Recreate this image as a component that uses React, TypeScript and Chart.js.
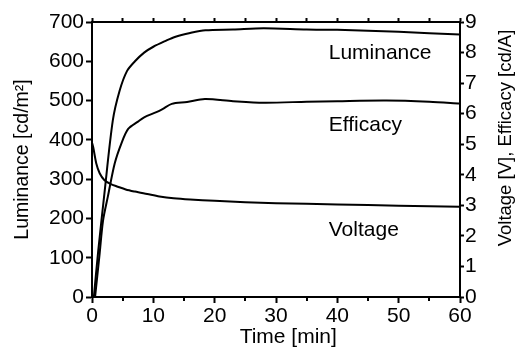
import React, { useEffect, useRef } from "react";
import { Chart, registerables } from "chart.js";

Chart.register(...registerables);

// Luminance [cd/m²] vs time [min] (left axis)
const lumTime = [0.3, 1, 2, 3.4, 4.5, 5.7, 7, 8.5, 10, 12, 13.5, 16, 18.5, 23, 28, 35, 40, 50, 60];
const lumValues = [0, 115, 260, 450, 525, 575, 600, 622, 637, 652, 662, 672, 679, 681, 684, 681, 680, 675, 668];

// Efficacy [cd/A] vs time (right axis)
const effTime = [0.5, 1.25, 1.8, 2.6, 3.7, 4.8, 5.9, 7.5, 8.5, 10.5, 11.5, 13, 15.5, 18.4, 23, 28, 35, 40, 48, 55, 60];
const effValues = [0, 1.43, 2.5, 3.3, 4.37, 5.03, 5.5, 5.74, 5.88, 6.05, 6.15, 6.32, 6.38, 6.48, 6.41, 6.36, 6.39, 6.41, 6.43, 6.39, 6.33];

// Voltage [V] vs time (right axis)
const voltTime = [0, 0.2, 0.7, 1.25, 2, 3, 4.2, 5.5, 7, 9, 11, 13.3, 16, 20, 25, 30, 40, 50, 60];
const voltValues = [5.05, 4.9, 4.37, 4.05, 3.83, 3.7, 3.61, 3.52, 3.45, 3.37, 3.29, 3.23, 3.19, 3.15, 3.1, 3.07, 3.03, 2.99, 2.95];

// Curve labels placed in data coordinates (time, luminance scale)
const curveLabels = ["Luminance", "Efficacy", "Voltage"];
const curveLabelTime = [38.6, 38.6, 38.6];
const curveLabelLum = [621, 438, 170];

const xTitle = "Time [min]";
const yLeftTitle = "Luminance [cd/m²]";
const yRightTitle = "Voltage [V], Efficacy [cd/A]";

const FONT = '"Liberation Sans", Arial, sans-serif';

function toPoints(xs: number[], ys: number[]) {
  return xs.map((x, i) => ({ x, y: ys[i] }));
}

export default function App() {
  const ref = useRef<HTMLCanvasElement | null>(null);

  useEffect(() => {
    document.body.style.margin = "0";
    const canvas = ref.current;
    if (!canvas) return;

    const overlay = {
      id: "overlay",
      afterDraw(chart: any) {
        const ctx = chart.ctx;
        const xs = chart.scales.x;
        const ys = chart.scales.y;
        const area = chart.chartArea;
        ctx.save();
        ctx.fillStyle = "#000";
        // curve labels
        ctx.font = `21px ${FONT}`;
        ctx.textAlign = "left";
        ctx.textBaseline = "middle";
        curveLabels.forEach((t, i) => {
          ctx.fillText(t, xs.getPixelForValue(curveLabelTime[i]), ys.getPixelForValue(curveLabelLum[i]));
        });
        // minor ticks on bottom axis
        ctx.strokeStyle = "#000";
        ctx.lineWidth = 2;
        for (let v = 5; v < 60; v += 10) {
          const px = Math.round(xs.getPixelForValue(v));
          ctx.beginPath();
          ctx.moveTo(px, area.bottom);
          ctx.lineTo(px, area.bottom + 4);
          ctx.stroke();
        }
        // x axis title
        ctx.font = `21px ${FONT}`;
        ctx.textAlign = "center";
        ctx.textBaseline = "middle";
        ctx.fillText(xTitle, xs.getPixelForValue(32), area.bottom + 40);
        // right axis title (reads bottom to top)
        ctx.font = `18.5px ${FONT}`;
        ctx.translate(area.right + 46, 138);
        ctx.rotate(-Math.PI / 2);
        ctx.fillText(yRightTitle, 0, 0);
        ctx.restore();
      },
    };

    const tickFont = { family: FONT, size: 21 };

    const chart = new Chart(canvas, {
      type: "line",
      data: {
        datasets: [
          {
            label: "Luminance",
            data: toPoints(lumTime, lumValues),
            yAxisID: "y",
            borderColor: "#000",
            borderWidth: 2,
            pointRadius: 0,
            tension: 0.3,
            fill: false,
          },
          {
            label: "Efficacy",
            data: toPoints(effTime, effValues),
            yAxisID: "y2",
            borderColor: "#000",
            borderWidth: 2,
            pointRadius: 0,
            tension: 0.3,
            fill: false,
          },
          {
            label: "Voltage",
            data: toPoints(voltTime, voltValues),
            yAxisID: "y2",
            borderColor: "#000",
            borderWidth: 2,
            pointRadius: 0,
            tension: 0.3,
            fill: false,
          },
        ],
      },
      options: {
        responsive: false,
        animation: false,
        layout: { padding: 0 },
        plugins: {
          legend: { display: false },
          tooltip: { enabled: false },
        },
        scales: {
          x: {
            type: "linear",
            position: "bottom",
            min: 0,
            max: 60,
            ticks: {
              stepSize: 5,
              autoSkip: false,
              maxRotation: 0,
              color: "#000",
              font: tickFont,
              padding: 1,
              callback: (v: any) => (Number(v) % 10 === 0 ? String(v) : ""),
            },
            grid: {
              drawOnChartArea: false,
              drawTicks: true,
              tickLength: 6,
              tickWidth: 2,
              tickColor: (c: any) => (c.tick && c.tick.value % 10 === 0 ? "#000" : "rgba(0,0,0,0)"),
            },
            border: { color: "#000", width: 2 },
            afterFit: (s: any) => {
              s.height = 57;
            },
          },
          x2: {
            type: "linear",
            position: "top",
            min: 0,
            max: 60,
            ticks: { stepSize: 5, display: false },
            grid: {
              drawOnChartArea: false,
              drawTicks: true,
              tickLength: 4,
              tickWidth: 2,
              tickColor: "#000",
            },
            border: { color: "#000", width: 2 },
            afterFit: (s: any) => {
              s.height = 22;
            },
          },
          y: {
            type: "linear",
            position: "left",
            min: 0,
            max: 700,
            ticks: {
              stepSize: 100,
              color: "#000",
              font: tickFont,
              padding: 2,
            },
            grid: {
              drawOnChartArea: false,
              drawTicks: true,
              tickLength: 6,
              tickWidth: 2,
              tickColor: "#000",
            },
            border: { color: "#000", width: 2 },
            title: {
              display: true,
              text: yLeftTitle,
              color: "#000",
              font: { family: FONT, size: 19.5 },
              padding: { top: 11, bottom: 0 },
            },
            afterFit: (s: any) => {
              s.width = 92;
            },
          },
          y2: {
            type: "linear",
            position: "right",
            min: 0,
            max: 9,
            ticks: {
              stepSize: 1,
              color: "#000",
              font: tickFont,
              padding: 1,
            },
            grid: {
              drawOnChartArea: false,
              drawTicks: true,
              tickLength: 4,
              tickWidth: 2,
              tickColor: "#000",
            },
            border: { color: "#000", width: 2 },
            afterFit: (s: any) => {
              s.width = 55;
            },
          },
        },
      },
      plugins: [overlay],
    } as any);

    return () => {
      chart.destroy();
    };
  }, []);

  return (
    <div style={{ position: "absolute", left: 0, top: 0, width: 515, height: 354, background: "#fff" }}>
      <canvas ref={ref} width={515} height={354} />
    </div>
  );
}
